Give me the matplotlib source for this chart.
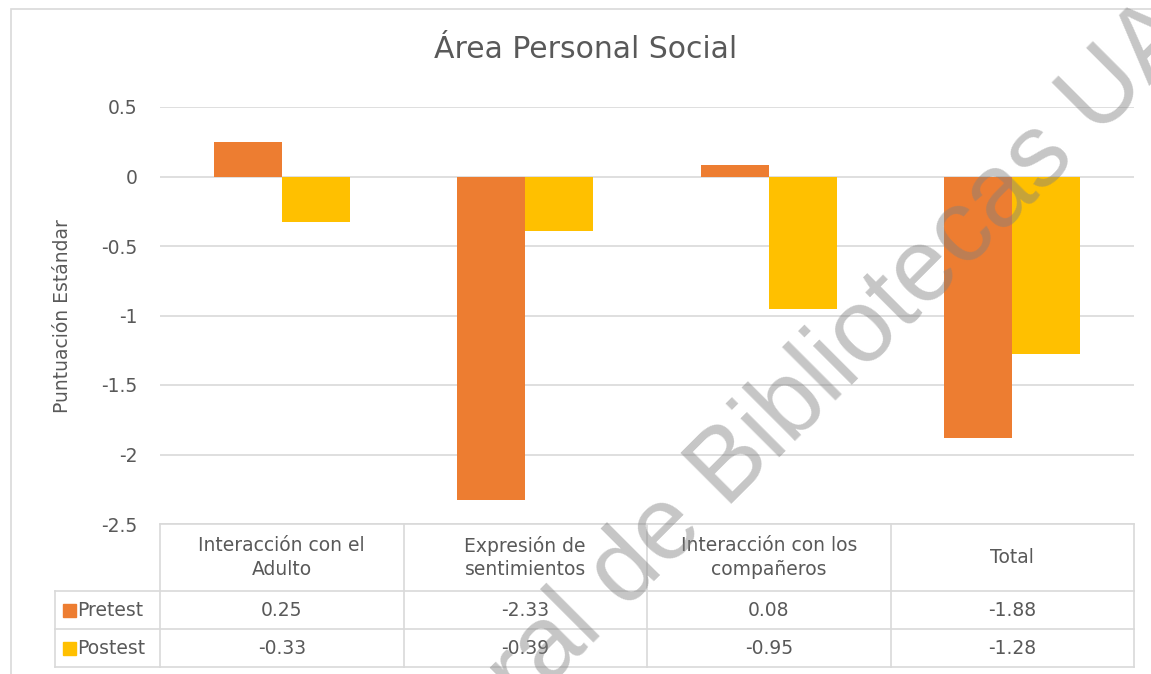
import numpy as np
import matplotlib.pyplot as plt
from matplotlib.patches import Rectangle

categories = ["Interacción con el\nAdulto", "Expresión de\nsentimientos",
              "Interacción con los\ncompañeros", "Total"]
series = ["Pretest", "Postest"]
pretest = [0.25, -2.33, 0.08, -1.88]
postest = [-0.33, -0.39, -0.95, -1.28]
colors = ["#ED7D31", "#FFC000"]
yticks = [0.5, 0, -0.5, -1, -1.5, -2, -2.5]

plt.rcParams["font.family"] = ["DejaVu Sans"]
txt = "#595959"
grid = "#d9d9d9"
fs = 13.5

W, H = 1151, 674
fig = plt.figure(figsize=(W / 100, H / 100), dpi=100)

def fx(px):
    return px / W

def fy(py):
    return 1 - py / H

# outer chart border (right and bottom edges fall outside the picture)
fig.add_artist(Rectangle((fx(11), fy(700)), fx(1170) - fx(11), fy(9) - fy(700),
                         transform=fig.transFigure, fill=False, ec=grid, lw=1.2))

ax = fig.add_axes([fx(160), fy(524), fx(1134) - fx(160), fy(107) - fy(524)])
x = np.arange(len(categories))
bw = 0.28
ax.bar(x + 0.5 - bw / 2, pretest, bw, color=colors[0], zorder=3)
ax.bar(x + 0.5 + bw / 2, postest, bw, color=colors[1], zorder=3)
ax.set_xlim(0, len(categories))
ax.set_ylim(-2.5, 0.5)
ax.set_yticks(yticks)
ax.set_yticklabels([f"{v:g}" for v in yticks])
ax.set_xticks([])
ax.yaxis.grid(True, color=grid, lw=1.2, zorder=0)
ax.tick_params(axis="y", length=0, pad=16, labelsize=fs, labelcolor=txt)
for s in ax.spines.values():
    s.set_visible(False)

fig.text(fx(62), fy(316), "Puntuación Estándar", rotation=90, ha="center",
         va="center", fontsize=fs, color=txt)
fig.text(fx(586), fy(50), "Área Personal Social", ha="center", va="center",
         fontsize=21.5, color=txt)

# data table
tab = fig.add_axes([fx(55), fy(667), fx(1134) - fx(55), fy(524) - fy(667)])
lc = -(160 - 55) / 243.5
tab.set_xlim(lc, len(categories))
tab.set_ylim(0, 143)
tab.axis("off")
for yy in [143, 76, 38, 0]:
    x0 = 0 if yy == 143 else lc
    tab.plot([x0, len(categories)], [yy, yy], color=grid, lw=1.2, clip_on=False)
for i in range(len(categories) + 1):
    tab.plot([i, i], [0, 143], color=grid, lw=1.2, clip_on=False)
tab.plot([lc, lc], [0, 76], color=grid, lw=1.2, clip_on=False)
for i, c in enumerate(categories):
    tab.text(i + 0.5, 109.5, c, ha="center", va="center", fontsize=fs,
             color=txt, linespacing=1.3)
for r, (name, vals) in enumerate(zip(series, [pretest, postest])):
    yc = 57 - r * 38
    for i, v in enumerate(vals):
        tab.text(i + 0.5, yc, f"{v:.2f}", ha="center", va="center",
                 fontsize=fs, color=txt)
    tab.add_patch(Rectangle((lc + 0.033, yc - 6.5), 0.053, 13, color=colors[r]))
    tab.text(lc + 0.09, yc, name, ha="left", va="center", fontsize=fs,
             color=txt)

# watermark
fig.text(fx(842), fy(355), "ral de Bibliotecas UA", rotation=45,
         rotation_mode="anchor", ha="center", va="center", fontsize=74,
         family="Liberation Sans", color="#808080", alpha=0.45, zorder=10)

fig.savefig("out.png", dpi=100)
